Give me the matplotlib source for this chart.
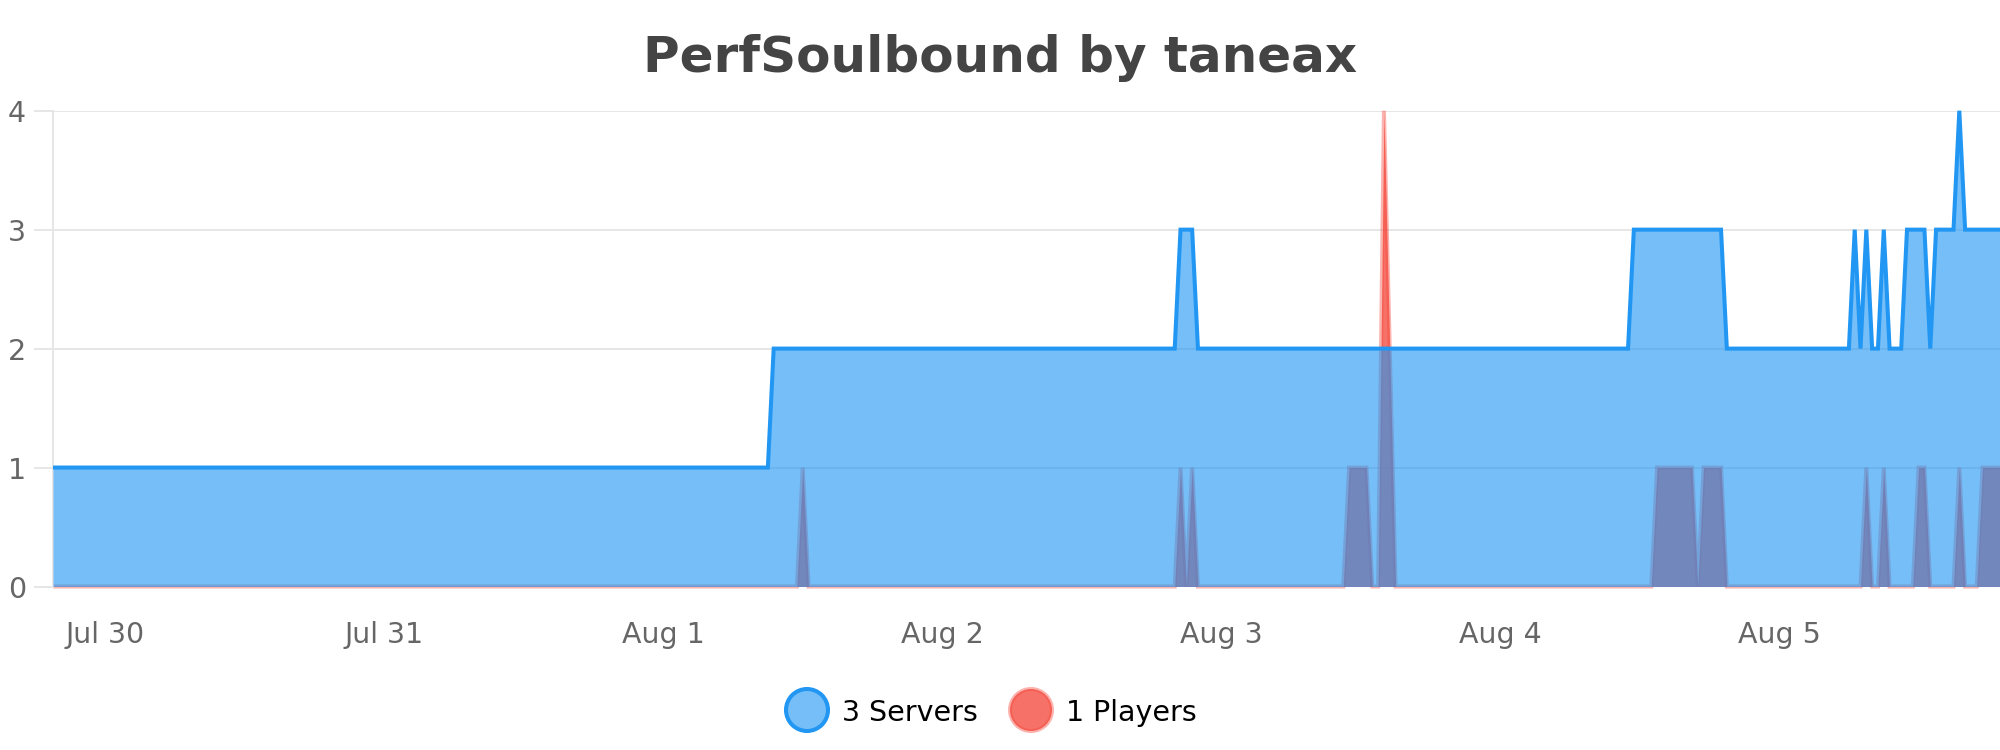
import pandas as pd
import matplotlib
matplotlib.use("Agg")
import matplotlib.pyplot as plt
import matplotlib.patches as mpatches

# polyline vertices (30 min sampling, only the turning points)
servers_times = [
    "2020-07-29 19:30", "2020-08-01 09:00", "2020-08-01 09:30",
    "2020-08-02 20:00", "2020-08-02 20:30", "2020-08-02 21:30", "2020-08-02 22:00",
    "2020-08-04 11:00", "2020-08-04 11:30", "2020-08-04 19:00", "2020-08-04 19:30",
    "2020-08-05 06:00", "2020-08-05 06:30", "2020-08-05 07:00", "2020-08-05 07:30",
    "2020-08-05 08:00", "2020-08-05 08:30", "2020-08-05 09:00", "2020-08-05 09:30",
    "2020-08-05 10:30", "2020-08-05 11:00", "2020-08-05 12:30", "2020-08-05 13:00",
    "2020-08-05 13:30", "2020-08-05 15:00", "2020-08-05 15:30", "2020-08-05 16:00",
    "2020-08-05 19:00",
]
servers_values = [
    1, 1, 2,
    2, 3, 3, 2,
    2, 3, 3, 2,
    2, 3, 2, 3,
    2, 2, 3, 2,
    2, 3, 3, 2,
    3, 3, 4, 3,
    3,
]

players_times = [
    "2020-07-29 19:30", "2020-08-01 11:30", "2020-08-01 12:00", "2020-08-01 12:30",
    "2020-08-02 20:00", "2020-08-02 20:30", "2020-08-02 21:00", "2020-08-02 21:30",
    "2020-08-02 22:00", "2020-08-03 10:30", "2020-08-03 11:00", "2020-08-03 12:30",
    "2020-08-03 13:00", "2020-08-03 13:30", "2020-08-03 14:00", "2020-08-03 14:30",
    "2020-08-03 15:00", "2020-08-04 13:00", "2020-08-04 13:30", "2020-08-04 16:30",
    "2020-08-04 17:00", "2020-08-04 17:30", "2020-08-04 19:00", "2020-08-04 19:30",
    "2020-08-05 07:00", "2020-08-05 07:30", "2020-08-05 08:00", "2020-08-05 08:30",
    "2020-08-05 09:00", "2020-08-05 09:30", "2020-08-05 11:30", "2020-08-05 12:00",
    "2020-08-05 12:30", "2020-08-05 13:00", "2020-08-05 15:00", "2020-08-05 15:30",
    "2020-08-05 16:00", "2020-08-05 17:00", "2020-08-05 17:30", "2020-08-05 19:00",
]
players_values = [
    0, 0, 1, 0,
    0, 1, 0, 1,
    0, 0, 1, 1,
    0, 0, 4, 2,
    0, 0, 1, 1,
    0, 1, 1, 0,
    0, 1, 0, 0,
    1, 0, 0, 1,
    1, 0, 0, 1,
    0, 0, 1, 1,
]

x_tick_days = ["2020-07-30", "2020-07-31", "2020-08-01", "2020-08-02",
               "2020-08-03", "2020-08-04", "2020-08-05"]
x_tick_labels = ["Jul 30", "Jul 31", "Aug 1", "Aug 2", "Aug 3", "Aug 4", "Aug 5"]
y_ticks = [0, 1, 2, 3, 4]

title = "PerfSoulbound by taneax"
legend_labels = ["3 Servers", "1 Players"]

blue = (33 / 255, 150 / 255, 243 / 255)
red = (244 / 255, 67 / 255, 54 / 255)
grid_c = "#e6e6e6"

st = pd.to_datetime(servers_times)
pt = pd.to_datetime(players_times)

W, H = 2000, 750
fig = plt.figure(figsize=(W / 100, H / 100), dpi=100)
ax = fig.add_axes([53 / W, 1 - 586.5 / H, 1947 / W, 475.8 / H])

# players first, servers painted over it (like the original)
ax.fill_between(pt, 0, players_values, color=red + (0.75,), lw=0, zorder=2)
ax.plot(pt, players_values, color=red + (0.4,), lw=2.9, zorder=2.1,
        solid_joinstyle="miter", solid_capstyle="butt", clip_on=False)
ax.fill_between(st, 0, servers_values, color=blue + (0.62,), lw=0, zorder=3)
ax.plot(st, servers_values, color=blue, lw=2.9, zorder=4,
        solid_joinstyle="miter", solid_capstyle="butt", clip_on=False)

ax.set_xlim(st[0], st[-1])
ax.set_ylim(0, 4)
ax.set_yticks(y_ticks)
ax.set_yticklabels([str(v) for v in y_ticks])
ax.set_xticks(pd.to_datetime(x_tick_days))
ax.set_xticklabels(x_tick_labels)

ax.set_axisbelow(True)
ax.yaxis.grid(True, color=grid_c, lw=1.44)
ax.xaxis.grid(False)
for side in ["top", "right", "bottom"]:
    ax.spines[side].set_visible(False)
ax.spines["left"].set_color(grid_c)
ax.spines["left"].set_linewidth(1.44)
ax.tick_params(axis="y", length=13.7, width=1.44, color=grid_c, pad=5.8,
               labelsize=20.5, labelcolor="#666666")
ax.tick_params(axis="x", length=0, pad=25, labelsize=20.5, labelcolor="#666666")

# title and legend in pixel coordinates
ov = fig.add_axes([0, 0, 1, 1], zorder=10)
ov.set_xlim(0, W)
ov.set_ylim(H, 0)
ov.axis("off")
ov.patch.set_alpha(0)

ov.text(1000, 72, title, ha="center", va="baseline", fontsize=36,
        fontweight="bold", color="#444444")

legend_x = [807, 1031]
legend_fill = [blue + (0.62,), red + (0.75,)]
legend_edge = [blue, red + (0.4,)]
for cx, lab, fc, ec in zip(legend_x, legend_labels, legend_fill, legend_edge):
    ov.add_patch(mpatches.Circle((cx, 710), 21, facecolor=fc, edgecolor=ec, lw=2.9))
    ov.text(cx + 35, 721, lab, ha="left", va="baseline", fontsize=20.5, color="black")

fig.savefig("out.png", dpi=100)
